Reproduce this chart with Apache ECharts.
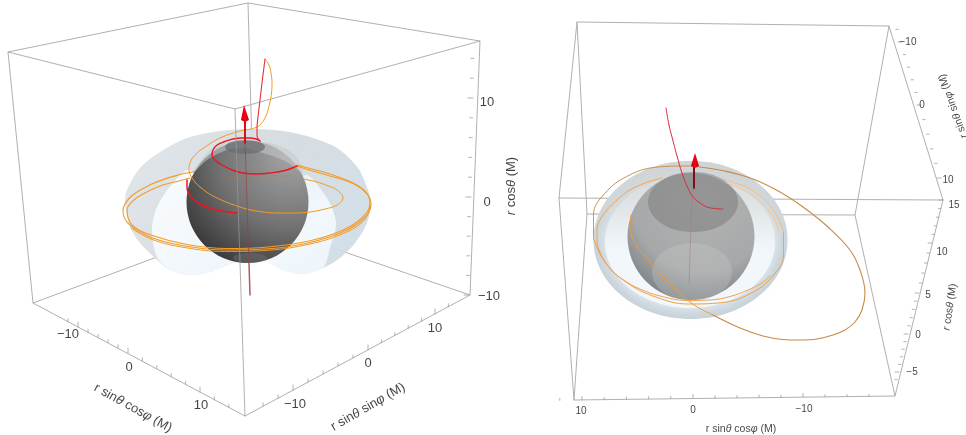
<!DOCTYPE html>
<html><head><meta charset="utf-8">
<style>html,body{margin:0;padding:0;background:#fff}#c{width:966px;height:435px}</style>
<script src="https://cdn.jsdelivr.net/npm/echarts@6/dist/echarts.min.js"></script>
</head><body><div id="c"></div>
<script>
// ---- box edges (picture coordinates)
const boxLeft = [[[8,52],[248,3],[480,41],[235,109],[8,52],[33,303],[245,416],[470,295],[480,41]],[[248,3],[254,221]],[[33,303],[254,221],[470,295]]];
const nearEdgeLeft = [[235,109],[245,416]];
const boxRight = [[[577,22],[889,26],[943,200],[559,198],[577,22],[587,214],[855,215],[889,26]],[[587,214],[574,400],[895,396],[855,215]],[[559,198],[574,400]],[[943,200],[895,396]]];
// ---- axis ticks
const zTicksLeft = [[473,98],[471,197],[469,295]];
const xTicksLeft = [[78,327],[128,353],[200,392]];
const yTicksLeft = [[293,390],[368,350],[435,314]];
const xTicksRight = [[582,400],[693,398],[803,397]];
const yTicksRight = [[902,42],[921,105],[941,178]];
const zTicksRight = [[943,200],[932,243],[919,293],[908,334],[899,372]];
// ---- left panel shapes
const shellLeft = [[253,129],[220,131],[187,138],[160,152],[140,168],[127,190],[125,203],[130,227],[140,243],[155,258],[170,270],[190,275],[210,272],[233,263],[248,260],[267,262],[283,270],[303,274],[323,268],[340,258],[355,243],[367,223],[371,203],[368,190],[358,168],[337,148],[310,137],[283,131]];
const lobeLeftA = [[190,170],[173,183],[157,207],[152,230],[157,257],[170,270],[190,275],[210,272],[233,263],[248,260],[230,210]];
const lobeLeftB = [[305,175],[325,195],[336,222],[330,248],[323,268],[303,274],[283,270],[267,262],[248,260],[290,215]];
const veilLeft = [[193,173],[207,160],[227,150],[245,148],[260,152],[285,161],[303,173],[295,155],[270,143],[225,143],[205,155]];
// ---- left panel curves
const redL1 = [[237,213],[222,211],[210,208],[200,204],[192,198],[188,192],[187,187],[187,180]];
const redL2 = [[297,166],[285,170.5],[270,173],[255,174],[243,173],[232,170],[222,165],[215,160],[212,155],[213,150],[217,145],[225,141.5],[233,139],[242,138],[250,138],[256,139],[260,141]];
const redL3 = [[260,141],[257,136],[257,128],[258,117],[260,100],[262,83],[265,59]];
const orL1 = [[265,59],[269,65],[271,73],[272,83],[271.5,93],[270,102],[265,118],[257,127],[240,131],[220,138],[205,147],[195,155],[190,163],[189,170],[192,178],[200,187],[215,197],[243,208],[260,211.5],[277,213],[295,213],[310,212],[325,209],[337,205],[343,198],[337,190],[327,185.5],[317,182],[303,179]];
const orL2 = [[297,166],[309,170],[330,176],[354,184],[367,194],[371,204.5],[363.5,219],[342,232.3],[309,242.7],[268.5,248.8],[225.5,250],[185,246],[152,237.7],[130.5,225.7],[123,211.5],[130.5,197],[152,184],[176,175.6],[194.6,171.5]];
const orL3 = [[297,165],[308,168],[330,174],[353,183],[366,192],[370,203],[363,217],[342,230.5],[309,241],[268,247],[226,248.5],[187,244.5],[154,236],[133,226],[127,210],[134,200],[143,194],[160,186],[175,182],[190,178]];
const orL4 = [[371,206],[363.5,221],[342,234],[309,244.2],[268.5,250.2],[225.5,251.4],[185,247.6],[152,239.4],[131,228]];
const faintL = [[203,178],[247,176],[290,176]];
// ---- right panel curves
const redR = [[666,108],[669,125],[672,137],[677,156],[682,173],[687,186],[693,197],[700,203],[707,207],[715,208.5],[723,209]];
const brR = [[700,167],[725,171],[753,179],[780,192],[803,207],[828,227],[850,250],[860,270],[865,293],[862,310],[855,322],[845,330],[833,335],[817,339],[800,340],[783,339.5],[763,336],[740,328],[713,315]];
const orR1 = [[713,315],[700,308.5],[690,302],[675,289],[663,277],[650,262],[637,247],[632,237],[630,227],[631,215]];
const brR2 = [[700,167],[688.5,166],[655.5,167.3],[626.5,176.6],[605,193.2],[593.5,214.6],[593.5,238.6]];
const orR2 = [[593.5,238.6],[605,262.2],[626.5,282.4],[655.5,296.9],[688.5,304],[721.5,302.7],[750.5,293.4],[772,276.8],[783.5,255.4],[783.5,231.4]];
const orR3 = [[783.5,231.4],[772,207.8],[750.5,189],[735,183],[723,179]];
const orR4 = [[662,178],[645,183],[630,190],[617,200],[607,210],[600,220],[597,230],[597,240],[600,252],[606,263],[613,272],[625,281],[640,289],[660,296],[687,300.5],[710,300],[730,296.5],[748,290],[760,284],[770,276]];
const orR5 = [[727,183],[752,195],[772,215],[779,232]];
// ---- tick labels and titles
const axisTexts = [
 ['10',487,102,0,13],['0',487,202,0,13],['\u221210',489,296,0,13],
 ['\u221210',68,334,0,13],['0',129,367,0,13],['10',201,405,0,13],
 ['\u221210',295,404,0,13],['0',368,363,0,13],['10',435,328,0,13],
 ['10',581,411,0,10],['0',693,410,0,10],['\u221210',804,409,0,10],
 ['\u221210',908,42,0,10],['0',922,105,0,10],['10',948,180,0,10],
 ['15',954,205,0,10],['10',942,252,0,10],['5',928,295,0,10],['0',918,335,0,10],['\u22125',912,372,0,10]
];
const axisTitles = [
 ['{a|r sin}{i|\u03b8}{a| cos}{i|\u03c6}{a| (M)}',133,408,-29,13],
 ['{a|r sin}{i|\u03b8}{a| sin}{i|\u03c6}{a| (M)}',368,407,30,13],
 ['{i|r}{a| cos}{i|\u03b8}{a| (M)}',511,186,90,13],
 ['{a|r sin}{i|\u03b8}{a| cos}{i|\u03c6}{a| (M)}',741,429,0,10.5],
 ['{i|r}{a| sin}{i|\u03b8}{a| sin}{i|\u03c6}{a| (M)}',953,106,110,10.5],
 ['{i|r}{a| cos}{i|\u03b8}{a| (M)}',950,307,82,10.5]
];

const G = echarts.graphic;
const chart = echarts.init(document.getElementById('c'), null, {renderer:'canvas'});
const series = [];
let zc = 1;
function segs(list){const o=[];list.forEach((s,i)=>{if(i)o.push([null,null]);s.forEach(p=>o.push(p));});return o;}
function line(name,data,color,width,smooth){
  series.push({type:'line',name,data,z:zc++,symbol:'none',smooth:smooth?0.4:false,silent:true,animation:false,connectNulls:false,
    lineStyle:{color,width,cap:'round',join:'round'},clip:false});
}
function poly(name,points,fill,smooth){
  series.push({type:'custom',name,z:zc++,silent:true,animation:false,coordinateSystem:'cartesian2d',clip:false,
    data:points.map(p=>({value:p})),encode:{x:0,y:1},
    renderItem:(params,api)=>{
      if(params.dataIndex!==0) return;
      return {type:'polygon',shape:{points:points.map(p=>api.coord(p)),smooth:smooth||0},style:{fill}};
    }});
}
function ell(name,c,rx,ry,fill,blur){
  series.push({type:'custom',name,z:zc++,silent:true,animation:false,coordinateSystem:'cartesian2d',clip:false,
    data:[{value:c}],encode:{x:0,y:1},
    renderItem:(params,api)=>{
      const p=api.coord(c);
      const style={fill};
      if(blur){style.shadowBlur=blur;style.shadowColor=fill;}
      return {type:'ellipse',shape:{cx:p[0],cy:p[1],rx,ry},style};
    }});
}
function ticks(majors,sub,dir,before,after){
  const out=[];const add=(x,y,k)=>{out.push([x,y]);out.push([x+dir[0]*k,y+dir[1]*k]);out.push([null,null]);};
  for(let i=0;i<majors.length;i++){
    const m=majors[i];add(m[0],m[1],1);
    if(i<majors.length-1){const n=majors[i+1];for(let j=1;j<sub;j++){add(m[0]+(n[0]-m[0])*j/sub,m[1]+(n[1]-m[1])*j/sub,0.6);}}
  }
  const a=majors[0],b=majors[1],st=[(b[0]-a[0])/sub,(b[1]-a[1])/sub];
  for(let j=1;j<=before;j++)add(a[0]-st[0]*j,a[1]-st[1]*j,0.6);
  const c=majors[majors.length-2],d=majors[majors.length-1],s2=[(d[0]-c[0])/sub,(d[1]-c[1])/sub];
  for(let j=1;j<=after;j++)add(d[0]+s2[0]*j,d[1]+s2[1]*j,0.6);
  return out;
}
const BOX='#b0b0b0', TICK='#a0a0a0';
line('boxLeft',segs(boxLeft),BOX,1);
line('boxRight',segs(boxRight),BOX,1);
// left shell
poly('shellLeft',shellLeft,new G.LinearGradient(0,0,1,1,[{offset:0,color:'rgba(222,229,234,.92)'},{offset:.45,color:'rgba(212,218,222,.92)'},{offset:1,color:'rgba(206,221,232,.92)'}]),.3);
poly('lobeA',lobeLeftA,new G.LinearGradient(0,0,1,1,[{offset:0,color:'rgba(252,253,254,.95)'},{offset:1,color:'rgba(238,246,252,.95)'}]),.3);
poly('lobeB',lobeLeftB,new G.LinearGradient(0,0,1,1,[{offset:0,color:'rgba(232,237,241,.95)'},{offset:.6,color:'rgba(243,249,253,.95)'},{offset:1,color:'rgba(238,246,252,.95)'}]),.3);
// right shell
ell('shellRight',[690.5,240],97,79,'#c6d1d8');
ell('shellRightInner',[690,242],85,66,'#f1f7fb',14);
ell('shellRightTop',[690.5,240],97,79,new G.LinearGradient(0,0,0,1,[{offset:0,color:'rgba(208,212,214,1)'},{offset:.35,color:'rgba(214,217,219,.5)'},{offset:.6,color:'rgba(230,232,234,0)'}]));
// horizons
ell('sphereLeft',[247.5,202],61,61,new G.RadialGradient(.85,.12,1.05,[{offset:0,color:'#a4a4a4'},{offset:.55,color:'#737373'},{offset:1,color:'#363636'}]));
poly('veilLeft',veilLeft,'rgba(196,200,202,.55)',.3);
ell('capLeft',[245,147],20,7,'rgba(105,110,112,.75)');
ell('capLeftLow',[250,258],17,5,'rgba(120,120,120,.4)');
ell('sphereRight',[691,236.5],63.5,63.5,new G.RadialGradient(.6,.2,.95,[{offset:0,color:'#b4b4b4'},{offset:.6,color:'#a6a8a9'},{offset:1,color:'#6a7277'}]));
ell('capRight',[693,202],45,30,'rgba(120,120,120,.5)');
ell('capRightLow',[692,272],40,29,'rgba(205,205,205,.3)');
// curves, left
const OR='#f59a23', RED='#ec1620';
line('faintL',faintL,'rgba(190,110,50,.3)',.8,true);
line('orL1',orL1,OR,1,true);
line('orL2',orL2,OR,1.1,true);
line('orL3',orL3,OR,1.1,true);
line('orL4',orL4,OR,1,true);
line('redL1',redL1,RED,1.5,true);
line('redL2',redL2,RED,1.4,true);
line('redL3',redL3,'#e2303a',1.1,true);
// curves, right
line('brR',brR,'#c88a45',1.1,true);
line('orR1',orR1,'#ee9a3c',1,true);
line('brR2',brR2,'#c9924f',1,true);
line('orR2',orR2,'#eda04a',1,true);
line('orR3',orR3,'#f6be7e',1,true);
line('orR4',orR4,'#f1a450',1,true);
line('orR5',orR5,'#f6c68c',1,true);
line('redR',redR,'#d92d3e',1,true);
// spin axes
line('axisL1',[[245,143],[246,170],[249,263]],'rgba(150,60,60,.6)',1);
line('axisL2',[[249,263],[250,295]],'#b05a5a',1.5);
line('axisL3',[[245,120],[245,143]],'#d4101c',2);
poly('coneL',[[244,105],[249,120],[245,122],[241,120]],new G.LinearGradient(0,0,1,0,[{offset:0,color:'#c00010'},{offset:.5,color:'#ff0010'},{offset:1,color:'#c00010'}]));
line('axisR1',[[694,166],[694,188]],'#7a1015',2);
line('axisR2',[[694,188],[692,197],[689,283]],'rgba(170,120,120,.5)',1);
poly('coneR',[[695,153],[699,166],[695,168],[691,166]],new G.LinearGradient(0,0,1,0,[{offset:0,color:'#b00010'},{offset:.5,color:'#ff0010'},{offset:1,color:'#b00010'}]));
line('nearEdgeLeft',nearEdgeLeft,'rgba(150,150,150,.75)',1);
// ticks
line('zTL',ticks(zTicksLeft,5,[-5,0],2,0),TICK,.8);
line('xTL',ticks(xTicksLeft,5,[0,-5],1,2),TICK,.8);
line('yTL',ticks(yTicksLeft,5,[0,-5],2,1),TICK,.8);
line('xTR',ticks(xTicksRight,5,[0,-3.5],1,3),TICK,.8);
line('yTR',ticks(yTicksRight,5,[-4,0],1,0),TICK,.8);
line('zTR',ticks(zTicksRight,5,[-4,0],0,1),TICK,.8);
// texts
const INK='#111';
function textSeries(name,rows,rich){
  series.push({type:'scatter',name,z:zc++,silent:true,animation:false,symbolSize:1,itemStyle:{color:'rgba(255,255,255,0)'},clip:false,
    data:rows.map(r=>({value:[r[1],r[2]],label:{show:true,position:'inside',rotate:r[3],formatter:r[0],fontSize:r[4],color:INK,fontFamily:'Liberation Sans',
      rich:rich?{a:{fontSize:r[4],color:INK,fontFamily:'Liberation Sans'},i:{fontSize:r[4],color:INK,fontStyle:'italic',fontFamily:'Liberation Sans'}}:undefined}}))});
}
textSeries('tickLabels',axisTexts,false);
textSeries('titles',axisTitles,true);

chart.setOption({
  animation:false,backgroundColor:'#fff',
  grid:{left:0,right:0,top:0,bottom:0},
  xAxis:{type:'value',min:0,max:966,show:false},
  yAxis:{type:'value',min:0,max:435,inverse:true,show:false},
  series
});
</script></body></html>
